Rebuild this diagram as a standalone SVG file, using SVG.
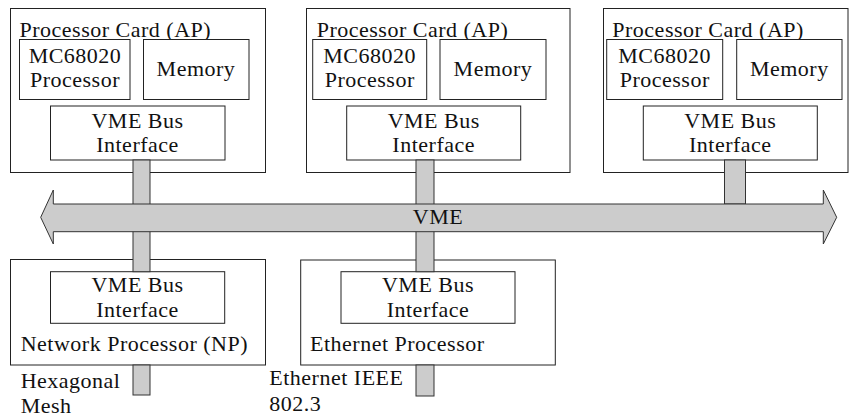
<svg xmlns="http://www.w3.org/2000/svg" width="849" height="418" viewBox="0 0 849 418">
  <style>
    .box { fill: #ffffff; stroke: #222222; stroke-width: 1; }
    .bar { fill: #cccccc; stroke: #333333; stroke-width: 1; }
    text { font-family: "Liberation Serif", "DejaVu Serif", serif; font-size: 22px; letter-spacing: 0.5px; fill: #111111; }
    .c { text-anchor: middle; }
  </style>

  <!-- Processor card 1 -->
  <g id="card1">
    <rect class="box" x="10.5" y="8.5" width="255" height="164"/>
    <text x="19.5" y="36.7">Processor Card (AP)</text>
    <rect class="box" x="19.5" y="39.5" width="110.5" height="60"/>
    <text class="c" x="75" y="63.3">MC68020</text>
    <text class="c" x="75" y="87.3">Processor</text>
    <rect class="box" x="143.5" y="39.5" width="105.5" height="60"/>
    <text class="c" x="196" y="76">Memory</text>
    <rect class="box" x="50.5" y="106" width="174.5" height="54"/>
    <text class="c" x="137.5" y="128.3">VME Bus</text>
    <text class="c" x="137.5" y="151.7">Interface</text>
  </g>

  <!-- Processor card 2 -->
  <g id="card2">
    <rect class="box" x="306.5" y="8.5" width="263.5" height="164"/>
    <text x="316.7" y="36.7">Processor Card (AP)</text>
    <rect class="box" x="312.7" y="39.5" width="114" height="60"/>
    <text class="c" x="369.7" y="63.3">MC68020</text>
    <text class="c" x="369.7" y="87.3">Processor</text>
    <rect class="box" x="440" y="39.5" width="106" height="60"/>
    <text class="c" x="493" y="76">Memory</text>
    <rect class="box" x="346.7" y="106" width="174" height="54"/>
    <text class="c" x="433.7" y="128.3">VME Bus</text>
    <text class="c" x="433.7" y="151.7">Interface</text>
  </g>

  <!-- Processor card 3 -->
  <g id="card3">
    <rect class="box" x="603.5" y="8.5" width="244.5" height="164"/>
    <text x="612.3" y="36.7">Processor Card (AP)</text>
    <rect class="box" x="606.7" y="39.5" width="116" height="60"/>
    <text class="c" x="664.7" y="63.3">MC68020</text>
    <text class="c" x="664.7" y="87.3">Processor</text>
    <rect class="box" x="736.7" y="39.5" width="105.3" height="60"/>
    <text class="c" x="789.3" y="76">Memory</text>
    <rect class="box" x="643.3" y="106" width="174" height="54"/>
    <text class="c" x="730.3" y="128.3">VME Bus</text>
    <text class="c" x="730.3" y="151.7">Interface</text>
  </g>

  <!-- Network processor -->
  <g id="np">
    <rect class="box" x="10.5" y="259.5" width="255" height="105.5"/>
    <rect class="box" x="50.5" y="271.7" width="174.2" height="51.6"/>
    <text class="c" x="137.5" y="291.7">VME Bus</text>
    <text class="c" x="137.5" y="316.7">Interface</text>
    <text x="20.7" y="350.5">Network Processor (NP)</text>
  </g>

  <!-- Ethernet processor -->
  <g id="ep">
    <rect class="box" x="300.7" y="260" width="254.6" height="105"/>
    <rect class="box" x="341" y="271.7" width="174" height="51.6"/>
    <text class="c" x="428" y="291.7">VME Bus</text>
    <text class="c" x="428" y="316.7">Interface</text>
    <text x="310" y="350.7">Ethernet Processor</text>
  </g>

  <!-- Stems and the VME bus -->
  <g id="connectors">
    <rect class="bar" x="133" y="160" width="17" height="111.7"/>
    <rect class="bar" x="416" y="160" width="18" height="111.7"/>
    <rect class="bar" x="724.5" y="160" width="21" height="44"/>
    <rect class="bar" x="133" y="365" width="17" height="30"/>
    <rect class="bar" x="416" y="365" width="18" height="31"/>
    <path class="bar" d="M40.7,217.3 L53.3,190 L53.3,204 L823.3,204 L823.3,190 L836.7,217.3 L823.3,244 L823.3,231.7 L53.3,231.7 L53.3,244 Z"/>
    <text class="c" x="438" y="224.3">VME</text>
  </g>

  <!-- External link labels -->
  <g id="labels">
    <text x="20.7" y="388.3">Hexagonal</text>
    <text x="20.7" y="413.3">Mesh</text>
    <text x="269.3" y="385">Ethernet IEEE</text>
    <text x="269.3" y="411">802.3</text>
  </g>
</svg>
